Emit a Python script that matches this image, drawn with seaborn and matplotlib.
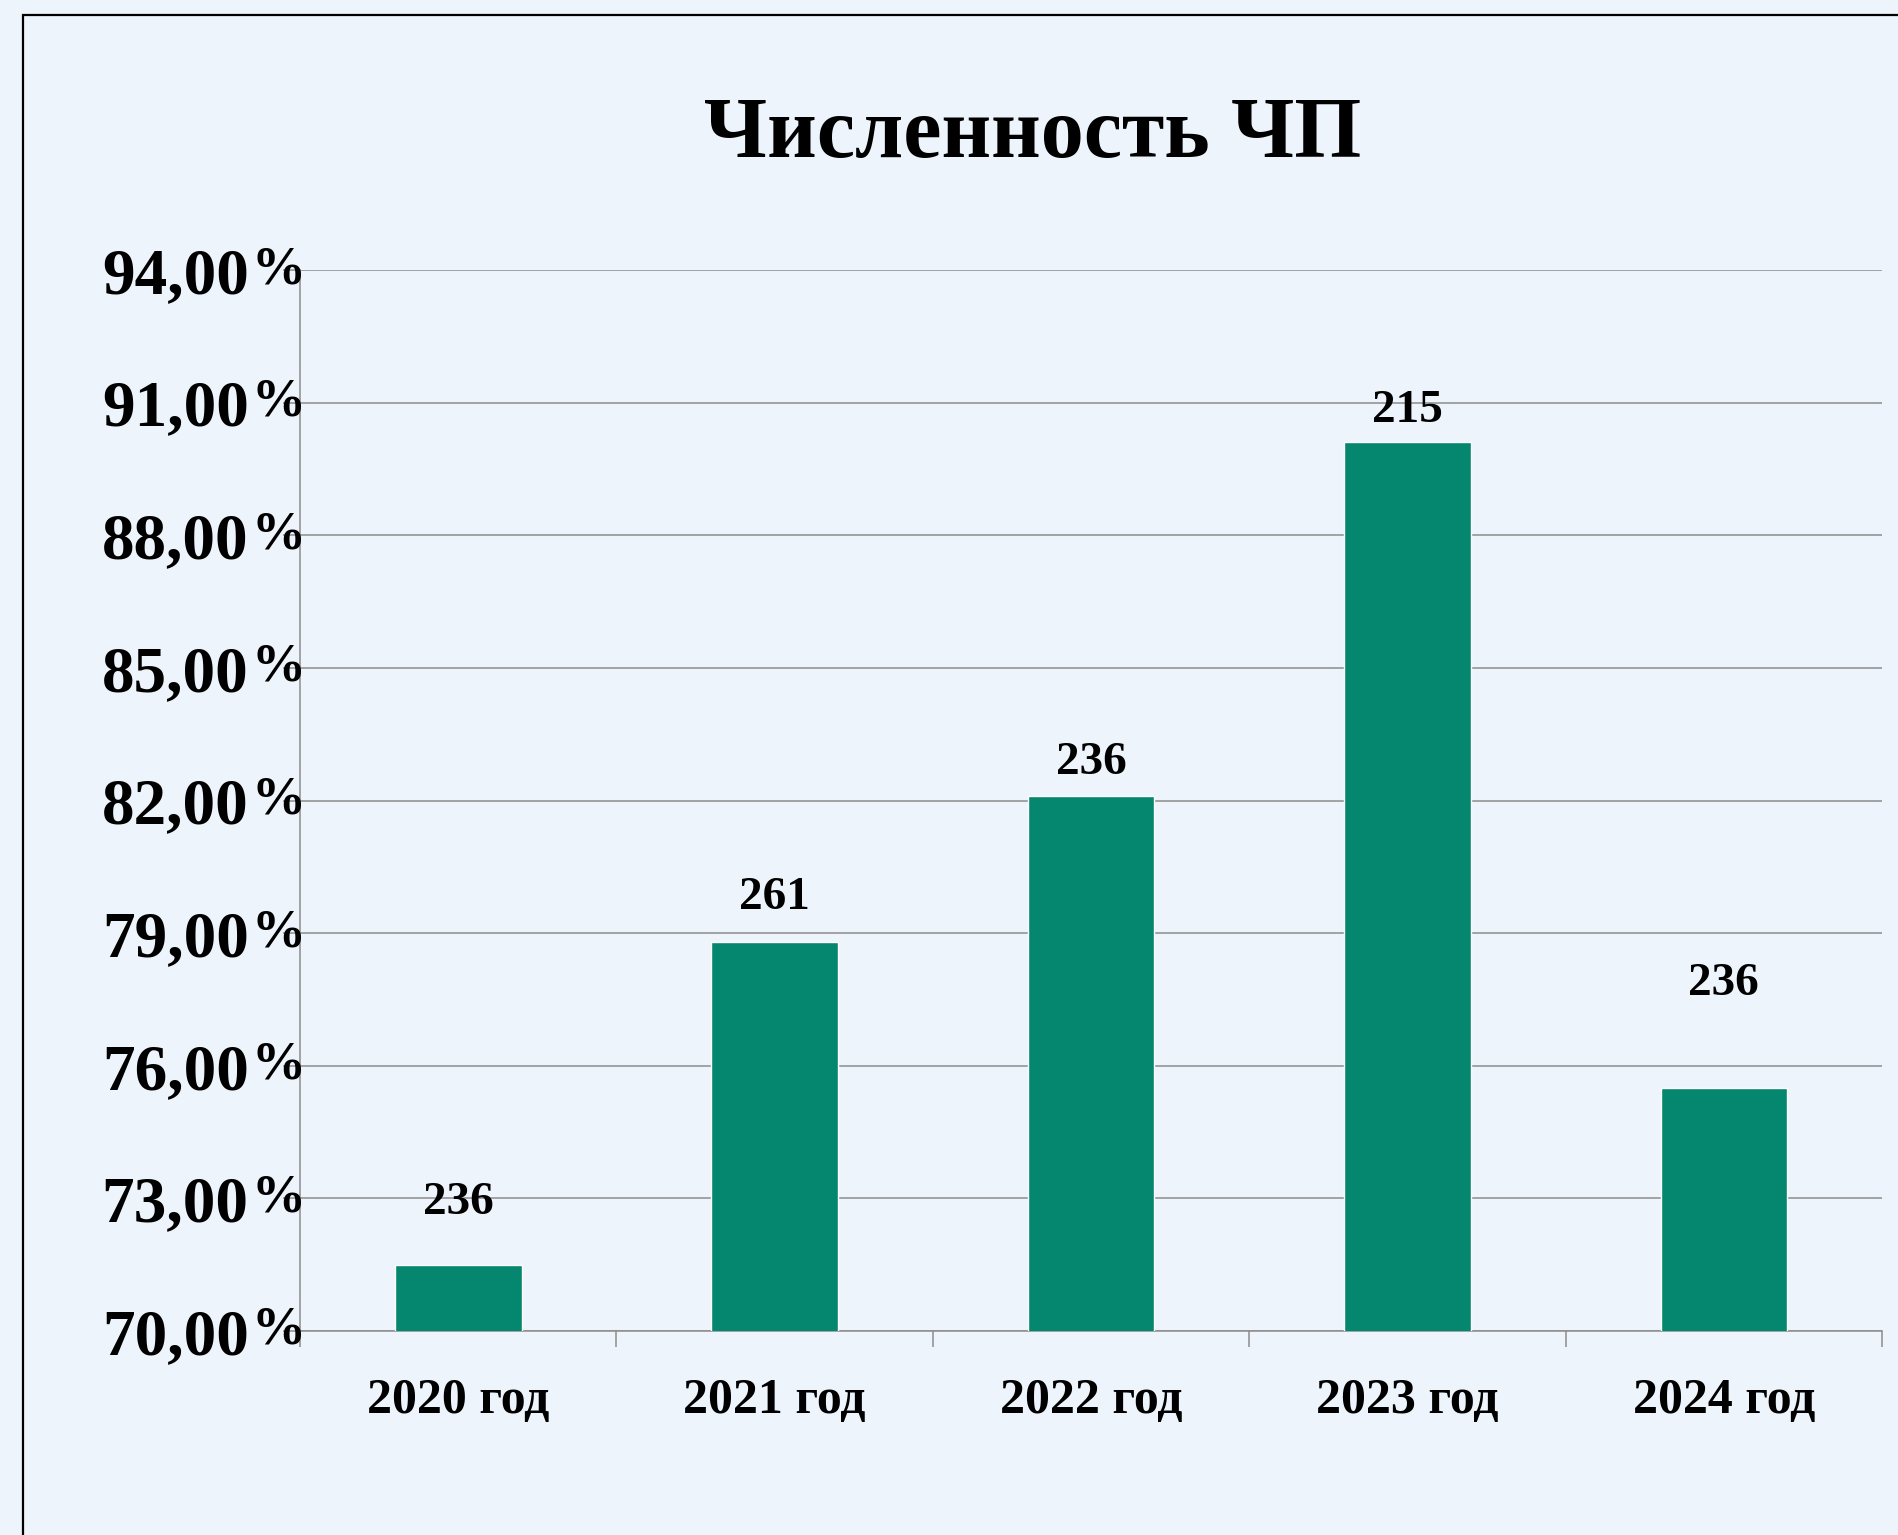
import pandas as pd
import matplotlib
import matplotlib.pyplot as plt
import matplotlib.transforms as mtransforms
from matplotlib.patches import Rectangle
import seaborn as sns

matplotlib.use("Agg")

sns.set_style("white")
plt.rcParams["font.family"] = ["Liberation Serif", "DejaVu Serif"]
plt.rcParams["font.weight"] = "bold"
plt.rcParams["text.color"] = "black"
plt.rcParams["xtick.labelcolor"] = "black"
plt.rcParams["ytick.labelcolor"] = "black"

# данные
years = ["2020 год", "2021 год", "2022 год", "2023 год", "2024 год"]
shares = [71.5, 78.8, 82.1, 90.1, 75.5]
counts = [236, 261, 236, 215, 236]
yticks = [70, 73, 76, 79, 82, 85, 88, 91, 94]

# сдвиг подписей над столбцами (в единицах оси)
label_shift = [1.4, 1.0, 0.75, 0.7, 2.35]

df = pd.DataFrame({"year": years, "share": shares})

bg = "#EDF4FB"
grid_color = "#8C8C8C"

fig = plt.figure(figsize=(18.98, 15.35), dpi=100, facecolor=bg)
ax = fig.add_axes([0.1581, 0.1329, 0.9916 - 0.1581, 0.8241 - 0.1329])
ax.set_facecolor(bg)

sns.barplot(data=df, x="year", y="share", color="#05876F", saturation=1,
            width=0.4, ax=ax, zorder=3)

ax.set_ylim(70, 94)
ax.set_xlim(-0.5, 4.5)
ax.set_yticks(yticks)
ax.set_yticklabels([f"{t},00" for t in yticks], fontsize=47, fontweight="bold")
ax.set_xticks(range(len(years)))
ax.set_xticklabels(years, fontsize=36, fontweight="bold")
ax.set_xlabel("")
ax.set_ylabel("")

ax.yaxis.grid(True, color=grid_color, lw=1.1, zorder=0)
ax.xaxis.grid(False)
for s in ["top", "right"]:
    ax.spines[s].set_visible(False)
for s in ["left", "bottom"]:
    ax.spines[s].set_color(grid_color)
    ax.spines[s].set_linewidth(1.1)

ax.tick_params(axis="y", direction="out", length=12, width=1.1,
               color=grid_color, pad=25, left=True)
ax.tick_params(axis="x", which="major", length=0, pad=34)
ax.set_xticks([i - 0.5 for i in range(len(years) + 1)], minor=True)
ax.tick_params(axis="x", which="minor", direction="out", length=11.5,
               width=1.1, color=grid_color, bottom=True)

# знак процента меньшим шрифтом
trans = mtransforms.blended_transform_factory(ax.transAxes, ax.transData)
for t in yticks:
    ax.text(-0.0305, t, "%", transform=trans, ha="left", va="center",
            fontsize=39, fontweight="bold", clip_on=False)

# подписи над столбцами
for i, (v, c) in enumerate(zip(shares, counts)):
    ax.text(i, v + label_shift[i], str(c), ha="center", va="center",
            fontsize=34, fontweight="bold", zorder=4)

fig.text(1033 / 1898, 1 - 137 / 1535, "Численность ЧП", ha="center",
         va="center", fontsize=62, fontweight="bold")

# рамка слайда
fig.patches.append(Rectangle((23 / 1898, -0.1), 1.2, 1.1 - 15 / 1535,
                             transform=fig.transFigure, fill=False,
                             edgecolor="black", lw=1.6))

fig.savefig("out.png", dpi=100, facecolor=bg)
